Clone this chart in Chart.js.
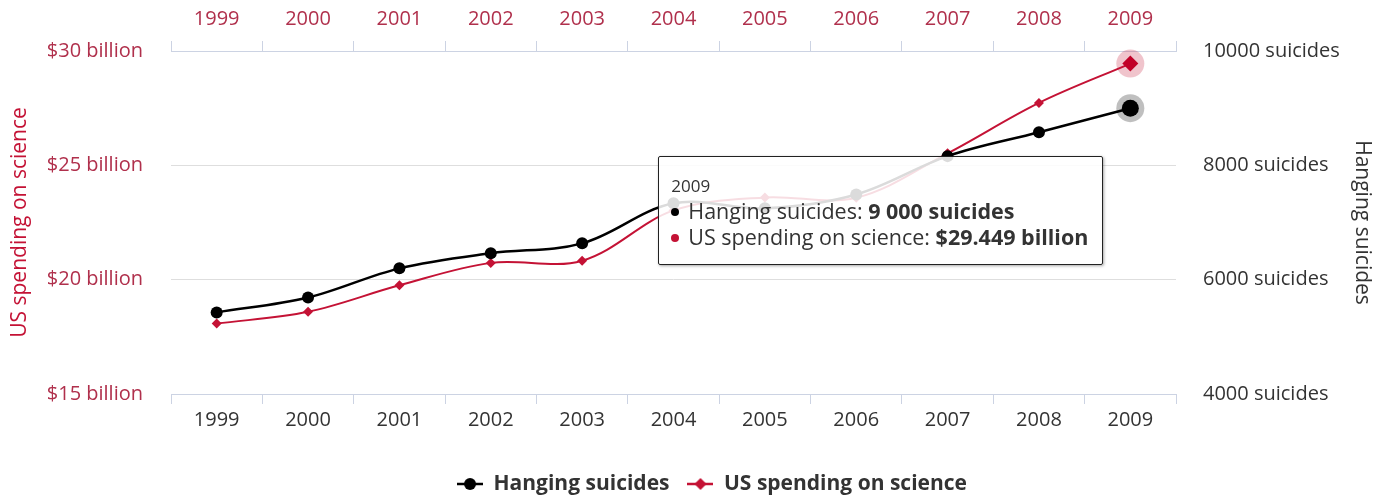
<!DOCTYPE html>
<html>
<head>
<meta charset="utf-8">
<script src="https://cdn.jsdelivr.net/npm/chart.js@4.4.1/dist/chart.umd.min.js"></script>
<style>
    html, body { margin: 0; padding: 0; background: #fff; }
    #wrap { position: relative; width: 1376px; height: 497px; }
    #tip {
        position: absolute; display: none; box-sizing: border-box;
        background: rgba(255, 255, 255, 0.86); border: 1px solid #222; border-radius: 2px;
        box-shadow: 1px 1px 3px rgba(0, 0, 0, 0.35);
        padding: 17px 14px 14px 12px; font-family: "Open Sans", sans-serif; color: #333;
        white-space: nowrap; pointer-events: none;
    }
    #tip .ttl { font-size: 17px; line-height: 24px; }
    #tip .row { font-size: 21.5px; line-height: 26px; }
    #tip .dot { display: inline-block; width: 8px; height: 8px; border-radius: 50%; margin: 0 9px 3px 0; vertical-align: middle; }
</style>
</head>
<body>
<div id="wrap">
    <canvas id="chart" width="1376" height="497"></canvas>
    <div id="tip"></div>
</div>
<script>
'use strict';

var years = ['1999', '2000', '2001', '2002', '2003', '2004', '2005', '2006', '2007', '2008', '2009'];
var hangingSuicides = [5427, 5688, 6198, 6462, 6635, 7336, 7248, 7491, 8161, 8578, 9000];
var scienceSpending = [18.079, 18.594, 19.753, 20.734, 20.831, 23.029, 23.597, 23.584, 25.525, 27.731, 29.449];
var billionTicks = [15, 20, 25, 30];
var suicideTicks = [4000, 6000, 8000, 10000];

var RED = '#c41235';
var RED_TEXT = '#b0304c';
var BLACK = '#000000';
var AXIS = '#ccd3e3';

Chart.defaults.font.family = '"Open Sans", sans-serif';
Chart.defaults.color = '#333';

// line + marker swatch for the legend
function swatch(color, shape) {
    var c = document.createElement('canvas');
    c.width = 26;
    c.height = 14;
    var g = c.getContext('2d');
    g.strokeStyle = color;
    g.fillStyle = color;
    g.lineWidth = 2.5;
    g.beginPath();
    g.moveTo(0, 7);
    g.lineTo(26, 7);
    g.stroke();
    g.beginPath();
    if (shape === 'circle') {
        g.arc(13, 7, 6, 0, Math.PI * 2);
    } else {
        g.moveTo(13, 1);
        g.lineTo(19, 7);
        g.lineTo(13, 13);
        g.lineTo(7, 7);
        g.closePath();
    }
    g.fill();
    return c;
}

var swatches = [swatch(BLACK, 'circle'), swatch(RED, 'diamond')];

// soft halo under the hovered points
var haloPlugin = {
    id: 'halo',
    beforeDatasetsDraw: function (chart) {
        var ctx = chart.ctx;
        chart.getActiveElements().forEach(function (a) {
            var ds = chart.data.datasets[a.datasetIndex];
            ctx.save();
            ctx.beginPath();
            ctx.arc(a.element.x, a.element.y, ds.haloRadius, 0, Math.PI * 2);
            ctx.fillStyle = ds.haloColor;
            ctx.fill();
            ctx.restore();
        });
    }
};

// the legend row sits a bit right of the canvas centre
var legendShift = {
    id: 'legendShift',
    afterLayout: function (chart) {
        if (chart.legend) {
            chart.legend.left += 24;
            chart.legend.right += 24;
        }
    }
};

Chart.Tooltip.positioners.besideLast = function (items) {
    if (!items.length) {
        return false;
    }
    return {
        x: items[0].element.x - 27,
        y: this.chart.chartArea.top + 105
    };
};

function fmtSuicides(v) {
    return String(v).replace(/\B(?=(\d{3})+(?!\d))/g, ' ') + ' suicides';
}

function externalTip(context) {
    var tip = document.getElementById('tip');
    var t = context.tooltip;
    if (t.opacity === 0 || !t.dataPoints || !t.dataPoints.length) {
        tip.style.display = 'none';
        return;
    }
    var html = '<div class="ttl">' + t.dataPoints[0].label + '</div>';
    t.dataPoints.forEach(function (p) {
        var ds = p.dataset;
        var val = ds.yAxisID === 'y1' ? fmtSuicides(p.raw) : '$' + p.raw + ' billion';
        html += '<div class="row"><span class="dot" style="background:' + ds.borderColor + '"></span>' +
            ds.label + ': <b>' + val + '</b></div>';
    });
    tip.innerHTML = html;
    tip.style.display = 'block';
    tip.style.left = (t.caretX - tip.offsetWidth) + 'px';
    tip.style.top = t.caretY + 'px';
}

var labelFont = { size: 20 };
var titleFont = { size: 21 };

var chart = new Chart(document.getElementById('chart'), {
    type: 'line',
    data: {
        labels: years,
        datasets: [
            {
                label: 'Hanging suicides',
                data: hangingSuicides,
                yAxisID: 'y1',
                xAxisID: 'x',
                borderColor: BLACK,
                backgroundColor: BLACK,
                borderWidth: 2.5,
                tension: 0.35,
                pointStyle: 'circle',
                pointRadius: 6,
                pointBorderWidth: 0,
                pointHoverRadius: 8.5,
                pointHoverBorderWidth: 0,
                haloRadius: 14,
                haloColor: 'rgba(0, 0, 0, 0.25)'
            },
            {
                label: 'US spending on science',
                data: scienceSpending,
                yAxisID: 'y',
                xAxisID: 'x',
                borderColor: RED,
                backgroundColor: RED,
                borderWidth: 2,
                tension: 0.35,
                pointStyle: 'rectRot',
                pointRadius: 5,
                pointBorderWidth: 0,
                pointHoverRadius: 8,
                pointHoverBorderWidth: 0,
                haloRadius: 14,
                haloColor: 'rgba(196, 18, 53, 0.25)'
            }
        ]
    },
    options: {
        responsive: false,
        animation: false,
        devicePixelRatio: 1,
        events: [],
        layout: { padding: { left: 0, right: 0, top: 0, bottom: -7.5 } },
        interaction: { mode: 'index', intersect: false },
        scales: {
            x: {
                type: 'category',
                position: 'bottom',
                offset: true,
                grid: { offset: true, drawOnChartArea: false, tickLength: 10, color: AXIS, lineWidth: 1 },
                border: { color: AXIS },
                ticks: { color: '#333', font: labelFont, padding: 4, maxRotation: 0, autoSkip: false },
                afterFit: function (s) { s.height = 61.5; }
            },
            xTop: {
                type: 'category',
                position: 'top',
                labels: years,
                offset: true,
                grid: { offset: true, drawOnChartArea: false, tickLength: 10, color: AXIS, lineWidth: 1 },
                border: { color: AXIS },
                ticks: { color: RED_TEXT, font: labelFont, padding: 10, maxRotation: 0, autoSkip: false },
                afterFit: function (s) { s.height = 51; }
            },
            y: {
                position: 'left',
                min: 15,
                max: 30,
                afterBuildTicks: function (s) {
                    s.ticks = billionTicks.map(function (v) { return { value: v }; });
                },
                grid: { drawTicks: false, color: '#dedede' },
                border: { display: false },
                ticks: {
                    color: RED_TEXT,
                    font: labelFont,
                    padding: 28,
                    callback: function (v) { return '$' + v + ' billion'; }
                },
                title: {
                    display: true,
                    text: 'US spending on science',
                    color: RED,
                    font: titleFont,
                    padding: { top: 7.5, bottom: 0 }
                },
                afterFit: function (s) { s.width = 171; }
            },
            y1: {
                position: 'right',
                min: 4000,
                max: 10000,
                afterBuildTicks: function (s) {
                    s.ticks = suicideTicks.map(function (v) { return { value: v }; });
                },
                grid: { display: false, drawTicks: false },
                border: { display: false },
                ticks: {
                    color: '#333',
                    font: labelFont,
                    padding: 27,
                    callback: function (v) { return v + ' suicides'; }
                },
                title: {
                    display: true,
                    text: 'Hanging suicides',
                    color: '#333',
                    font: titleFont,
                    padding: { top: 1, bottom: 0 }
                },
                afterFit: function (s) { s.width = 200; }
            }
        },
        plugins: {
            legend: {
                position: 'bottom',
                labels: {
                    usePointStyle: true,
                    pointStyleWidth: 26,
                    boxHeight: 14,
                    padding: 18,
                    color: '#333',
                    font: { size: 21, weight: 'bold' },
                    generateLabels: function (ch) {
                        return ch.data.datasets.map(function (ds, i) {
                            return {
                                text: ds.label,
                                pointStyle: swatches[i],
                                fillStyle: ds.borderColor,
                                strokeStyle: ds.borderColor,
                                lineWidth: 0,
                                fontColor: '#333',
                                hidden: false,
                                datasetIndex: i
                            };
                        });
                    }
                }
            },
            tooltip: {
                enabled: false,
                position: 'besideLast',
                external: externalTip
            }
        }
    },
    plugins: [haloPlugin, legendShift]
});

var active = [{ datasetIndex: 0, index: 10 }, { datasetIndex: 1, index: 10 }];
chart.setActiveElements(active);
chart.tooltip.setActiveElements(active, { x: 0, y: 0 });
chart.update();
</script>
</body>
</html>
